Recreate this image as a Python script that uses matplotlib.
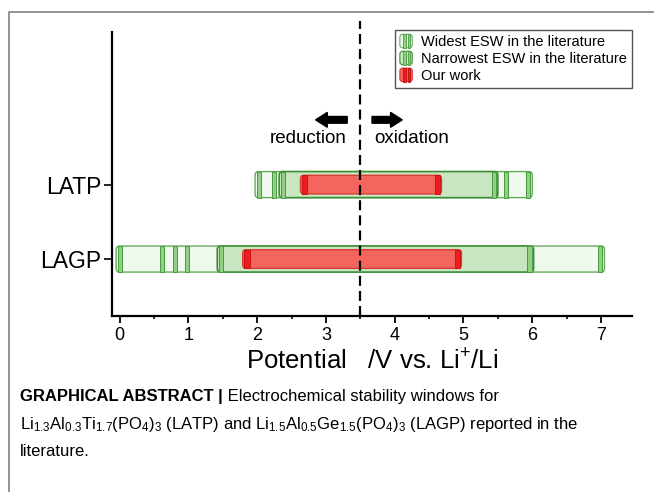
import matplotlib
matplotlib.use('Agg')
import matplotlib.pyplot as plt
from matplotlib.patches import FancyBboxPatch, Rectangle, Patch
from matplotlib.legend_handler import HandlerBase
from matplotlib.lines import Line2D

plt.rcParams['font.family'] = ['Liberation Sans', 'DejaVu Sans']
plt.rcParams['mathtext.fontset'] = 'custom'
plt.rcParams['mathtext.rm'] = 'Liberation Sans'
plt.rcParams['mathtext.it'] = 'Liberation Sans:italic'
plt.rcParams['mathtext.bf'] = 'Liberation Sans:bold'
plt.rcParams['mathtext.default'] = 'regular'

# data: electrochemical stability windows (V vs. Li+/Li)
materials = ['LAGP', 'LATP']
widest = [(-0.05, 7.05), (1.97, 6.0)]
narrowest = [(1.42, 6.02), (2.32, 5.5)]
other_edges = [[0.62, 0.81, 0.98], [2.25, 5.62]]
our_work = [(1.79, 4.97), (2.63, 4.68)]
dashed_at = 3.5
xticks = [0, 1, 2, 3, 4, 5, 6, 7]

# colours
light_fc, light_ec = '#f0f9ed', '#62ad58'
mid_fc, mid_ec = '#c9e6c1', '#3f8f3a'
line_fc, line_ec = '#8fd083', '#4a9a42'
red_fc, red_ec, red_line = '#f4665d', '#d93a32', '#ee1c1f'

fig = plt.figure(figsize=(6.54, 4.92), dpi=100)
ax = fig.add_axes([112 / 654, 1 - 316 / 492, 520 / 654, 284 / 492])

bar_h = 0.35
red_h = 0.25
inset = 0.06
lw_line = 0.06


def edge_line(x, y, h, fc, ec, z):
    ax.add_patch(Rectangle((x - lw_line / 2, y - h / 2), lw_line, h,
                           fc=fc, ec=ec, lw=0.7, zorder=z))


def rbar(lo, hi, y, h, fc, ec, lw, z):
    ax.add_patch(FancyBboxPatch((lo, y - h / 2), hi - lo, h,
                                boxstyle='round,pad=0,rounding_size=0.05',
                                fc=fc, ec=ec, lw=lw, zorder=z))


for i, name in enumerate(materials):
    y = i + 1
    lo, hi = widest[i]
    rbar(lo, hi, y, bar_h, light_fc, light_ec, 1.0, 2)
    edge_line(lo + inset, y, bar_h, line_fc, line_ec, 2.5)
    edge_line(hi - inset, y, bar_h, line_fc, line_ec, 2.5)
    for e in other_edges[i]:
        edge_line(e, y, bar_h, line_fc, line_ec, 2.5)
    lo, hi = narrowest[i]
    rbar(lo, hi, y, bar_h, mid_fc, mid_ec, 1.2, 3)
    edge_line(lo + inset, y, bar_h, line_fc, line_ec, 3.5)
    edge_line(hi - inset, y, bar_h, line_fc, line_ec, 3.5)
    lo, hi = our_work[i]
    rbar(lo, hi, y, red_h, red_fc, red_ec, 1.0, 4)
    ax.add_patch(Rectangle((lo + inset - 0.04, y - red_h / 2), 0.08, red_h,
                           fc=red_line, ec='#c01010', lw=0.6, zorder=4.5))
    ax.add_patch(Rectangle((hi - inset - 0.04, y - red_h / 2), 0.08, red_h,
                           fc=red_line, ec='#c01010', lw=0.6, zorder=4.5))

ax.axvline(dashed_at, ymin=0, ymax=1.04, color='black', lw=1.6,
           dashes=[4.5, 2.3], zorder=6, clip_on=False)

# reduction / oxidation arrows
ax.arrow(3.31, 2.87, -0.46, 0, width=0.09, head_width=0.2, head_length=0.17,
         length_includes_head=True, fc='black', ec='black', zorder=6)
ax.arrow(3.67, 2.87, 0.44, 0, width=0.09, head_width=0.2, head_length=0.17,
         length_includes_head=True, fc='black', ec='black', zorder=6)
ax.text(3.30, 2.62, 'reduction', ha='right', va='center', fontsize=13.5)
ax.text(3.70, 2.62, 'oxidation', ha='left', va='center', fontsize=13.5)

ax.set_xticks(xticks)
ax.set_xticks([x + 0.5 for x in xticks[:-1]], minor=True)
ax.set_xlim(-0.11, 7.45)
ax.set_ylim(0.235, 4.05)
ax.set_yticks([1, 2])
ax.set_yticklabels(materials, fontsize=16.5)
ax.tick_params(axis='x', which='major', labelsize=13, length=5, width=1.3,
               direction='out', pad=3)
ax.tick_params(axis='x', which='minor', length=2.5, width=1.2, direction='out')
ax.tick_params(axis='y', length=5.5, width=1.2, direction='out', pad=2)
ax.set_xlabel('Potential   /V vs. Li$^{+}$/Li', fontsize=18.5, labelpad=4)
for s in ['top', 'right']:
    ax.spines[s].set_visible(False)
for s in ['left', 'bottom']:
    ax.spines[s].set_linewidth(1.6)


class ESWHandler(HandlerBase):
    def __init__(self, fc, ec, lfc, lec):
        super().__init__()
        self.fc, self.ec, self.lfc, self.lec = fc, ec, lfc, lec

    def create_artists(self, legend, orig_handle, xdescent, ydescent,
                       width, height, fontsize, trans):
        x0, y0 = -xdescent, -ydescent - 1
        h = height + 2
        box = FancyBboxPatch((x0, y0), width, h,
                             boxstyle='round,pad=0,rounding_size=2',
                             fc=self.fc, ec=self.ec, lw=0.8, transform=trans)
        arts = [box]
        for fx in (0.28, 0.62):
            arts.append(Rectangle((x0 + fx * width, y0), 0.18 * width, h,
                                  fc=self.lfc, ec=self.lec, lw=0.6,
                                  transform=trans))
        return arts


h_wide = Patch(label='Widest ESW in the literature')
h_narrow = Patch(label='Narrowest ESW in the literature')
h_ours = Patch(label='Our work')
ax.legend(handles=[h_wide, h_narrow, h_ours],
          handler_map={h_wide: ESWHandler(light_fc, light_ec, line_fc, line_ec),
                       h_narrow: ESWHandler(mid_fc, mid_ec, line_fc, line_ec),
                       h_ours: ESWHandler(red_fc, red_ec, red_line, '#c01010')},
          loc='upper right', bbox_to_anchor=(1.0, 1.007), borderaxespad=0,
          fontsize=10.5, frameon=True, fancybox=False, edgecolor='#555555',
          framealpha=1, handlelength=0.85, handleheight=0.75,
          handletextpad=0.6, labelspacing=0.2, borderpad=0.35)

# outer frame of the figure panel
fig.add_artist(Line2D([9 / 654, 9 / 654, 1.0], [0, 1 - 12 / 492, 1 - 12 / 492],
                      transform=fig.transFigure, color='#808080', lw=1.2))

# caption
t1 = fig.text(20 / 654, 1 - 396 / 492, 'GRAPHICAL ABSTRACT |', fontsize=12,
              fontweight='bold', va='center', ha='left')
ax.annotate(' Electrochemical stability windows for', xy=(1, 0),
            xycoords=t1, va='bottom', ha='left', fontsize=12,
            annotation_clip=False)
fig.text(20 / 654, 1 - 425 / 492,
         r'Li$_{1.3}$Al$_{0.3}$Ti$_{1.7}$(PO$_4$)$_3$ (LATP) and '
         r'Li$_{1.5}$Al$_{0.5}$Ge$_{1.5}$(PO$_4$)$_3$ (LAGP) reported in the',
         fontsize=12, va='center', ha='left')
fig.text(20 / 654, 1 - 452 / 492, 'literature.', fontsize=12,
         va='center', ha='left')

plt.savefig('out.png', dpi=100)
